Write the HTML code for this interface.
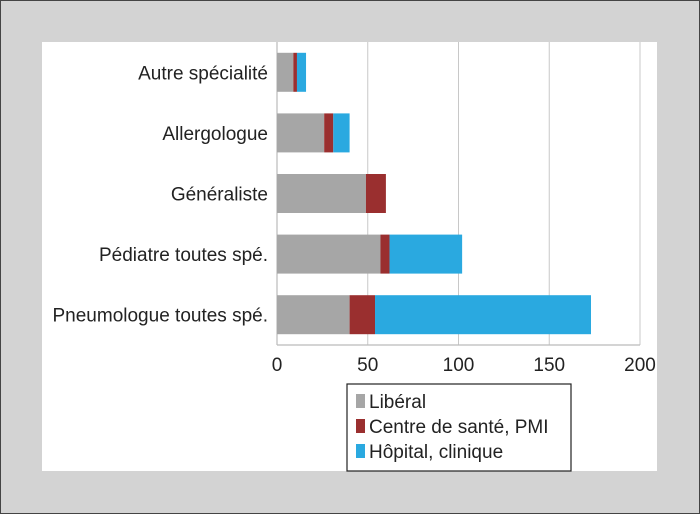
<!DOCTYPE html>
<html><head><meta charset="utf-8"><style>
body{margin:0;background:#d3d3d3;}
svg{display:block;font-family:"Liberation Sans",sans-serif;}
</style></head><body>
<svg width="700" height="514">
<rect x="0.5" y="0.5" width="699" height="513" fill="#d3d3d3" stroke="#444"/>
<rect x="42" y="42" width="615" height="429" fill="#fff"/>
<g id="grid"></g>
<g id="bars"></g>
<g id="labels"></g>
<g id="ticks"></g>
<g>
<rect x="347" y="384" width="224" height="87" fill="#fff" stroke="#222" stroke-width="1.2"/>
<g id="legend"></g>
</g>
</svg>
<script>
const categories=["Autre spécialité","Allergologue","Généraliste","Pédiatre toutes spé.","Pneumologue toutes spé."];
const seriesNames=["Libéral","Centre de santé, PMI","Hôpital, clinique"];
const liberal=[9,26,49,57,40];
const centre=[2,5,11,5,14];
const hopital=[5,9,0,40,119];
const tickValues=[0,50,100,150,200];
const colors=["#a6a6a6","#9a2f2f","#2aa9e0"];
const NS="http://www.w3.org/2000/svg";
const x0=277,x1=640,yTop=42,yBottom=345;
function xs(v){return x0+v/200*(x1-x0);}
const band=(yBottom-yTop)/categories.length;
function yc(i){return yTop+band*(i+0.5);}
function mk(t,a,p,txt){const e=document.createElementNS(NS,t);for(const k in a)e.setAttribute(k,a[k]);if(txt!==undefined)e.textContent=txt;p.appendChild(e);return e;}
const grid=document.getElementById('grid');
tickValues.forEach(v=>{if(v===0)return;const l=mk('line',{x1:xs(v),x2:xs(v),y1:yTop,y2:yBottom,stroke:'#c8c8c8','stroke-width':1},grid);

});
const ax=mk('line',{x1:x0,x2:x0,y1:yTop,y2:yBottom,stroke:'#bbb','stroke-width':1.2},grid);


const bx=mk('line',{x1:x0,x2:x1,y1:yBottom,y2:yBottom,stroke:'#bbb','stroke-width':1.2},grid);


const series=[liberal,centre,hopital];
const bars=document.getElementById('bars');
const bh=39;
categories.forEach((c,i)=>{let acc=0;series.forEach((s,j)=>{const v=s[i];if(v>0){const r=mk('rect',{x:xs(acc),y:yc(i)-bh/2,width:xs(acc+v)-xs(acc),height:bh,fill:colors[j]},bars);

}acc+=v;});
const t=mk('text',{x:268,y:yc(i)+7,'text-anchor':'end','font-size':19,fill:'#222'},document.getElementById('labels'),c);

});
tickValues.forEach(v=>{const t=mk('text',{x:xs(v),y:371,'text-anchor':'middle','font-size':19,fill:'#222'},document.getElementById('ticks'),v);

});
const lg=document.getElementById('legend');
seriesNames.forEach((n,j)=>{const y=401+j*25;
const r=mk('rect',{x:356,y:y-7,width:9,height:14,fill:colors[j]},lg);


const t=mk('text',{x:369,y:y+7,'font-size':19,fill:'#222'},lg,n);

});
</script>
</body></html>
